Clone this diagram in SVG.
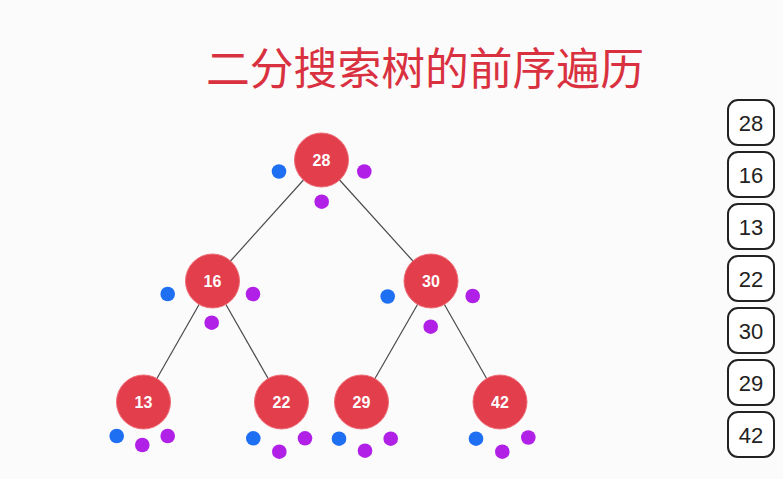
<svg xmlns="http://www.w3.org/2000/svg" width="783" height="479" viewBox="0 0 783 479">
<style>
.bg{fill:#fbfbfb}
.title{font-family:"Noto Sans CJK SC","Noto Sans",sans-serif;font-size:43.8px;fill:#d9313f}
.node circle{fill:#e23e4c;stroke:#ef6e78;stroke-width:1}
.node text{font-family:"Liberation Sans",Arial,sans-serif;font-size:16px;font-weight:bold;fill:#ffffff;text-anchor:middle}
.edge{stroke:#4a4a4a;stroke-width:1.2;fill:none}
.b{fill:#1f6ff2}
.p{fill:#b020e6}
.box rect{fill:#ffffff;stroke:#222222;stroke-width:2}
.box text{font-family:"Liberation Sans",Arial,sans-serif;font-size:22px;fill:#222222;text-anchor:middle}
</style>
<rect class="bg" x="0" y="0" width="783" height="479"/>
<text class="title" x="206" y="85">二分搜索树的前序遍历</text>
<g id="connectors">
<line class="edge" x1="321.5" y1="160" x2="212.5" y2="281"/>
<line class="edge" x1="321.5" y1="160" x2="431" y2="281"/>
<line class="edge" x1="212.5" y1="281" x2="143.5" y2="402"/>
<line class="edge" x1="212.5" y1="281" x2="281.5" y2="402"/>
<line class="edge" x1="431" y1="281" x2="361.5" y2="402"/>
<line class="edge" x1="431" y1="281" x2="500" y2="402"/>
</g>
<g id="node-28" class="node"><circle cx="321.5" cy="160" r="27"/><text x="321.5" y="166">28</text></g>
<g id="node-16" class="node"><circle cx="212.5" cy="281" r="27"/><text x="212.5" y="287">16</text></g>
<g id="node-30" class="node"><circle cx="431" cy="281" r="27"/><text x="431" y="287">30</text></g>
<g id="node-13" class="node"><circle cx="143.5" cy="402" r="27"/><text x="143.5" y="408">13</text></g>
<g id="node-22" class="node"><circle cx="281.5" cy="402" r="27"/><text x="281.5" y="408">22</text></g>
<g id="node-29" class="node"><circle cx="361.5" cy="402" r="27"/><text x="361.5" y="408">29</text></g>
<g id="node-42" class="node"><circle cx="500" cy="402" r="27"/><text x="500" y="408">42</text></g>
<g id="dots">
<circle class="b" cx="279" cy="171.5" r="7.3"/><circle class="p" cx="364.3" cy="171.5" r="7.3"/><circle class="p" cx="321.7" cy="201.7" r="7.3"/>
<circle class="b" cx="167.7" cy="294" r="7.3"/><circle class="p" cx="253" cy="294" r="7.3"/><circle class="p" cx="211.7" cy="322.7" r="7.3"/>
<circle class="b" cx="387.7" cy="296.5" r="7.3"/><circle class="p" cx="472.7" cy="296" r="7.3"/><circle class="p" cx="430.7" cy="326.7" r="7.3"/>
<circle class="b" cx="116.7" cy="436" r="7.3"/><circle class="p" cx="142.3" cy="445" r="7.3"/><circle class="p" cx="167.7" cy="436" r="7.3"/>
<circle class="b" cx="253.3" cy="438.3" r="7.3"/><circle class="p" cx="279.3" cy="451.7" r="7.3"/><circle class="p" cx="305" cy="438.3" r="7.3"/>
<circle class="b" cx="339" cy="438.7" r="7.3"/><circle class="p" cx="365" cy="450.7" r="7.3"/><circle class="p" cx="390.7" cy="438.7" r="7.3"/>
<circle class="b" cx="476" cy="438.7" r="7.3"/><circle class="p" cx="502.3" cy="451.7" r="7.3"/><circle class="p" cx="528.3" cy="437.5" r="7.3"/>
</g>
<g id="sequence">
<g id="box-28" class="box"><rect x="728" y="100" width="46" height="45" rx="10"/><text x="751" y="131">28</text></g>
<g id="box-16" class="box"><rect x="728" y="152" width="46" height="45" rx="10"/><text x="751" y="183">16</text></g>
<g id="box-13" class="box"><rect x="728" y="204" width="46" height="45" rx="10"/><text x="751" y="235">13</text></g>
<g id="box-22" class="box"><rect x="728" y="256" width="46" height="45" rx="10"/><text x="751" y="287">22</text></g>
<g id="box-30" class="box"><rect x="728" y="308" width="46" height="45" rx="10"/><text x="751" y="339">30</text></g>
<g id="box-29" class="box"><rect x="728" y="360" width="46" height="45" rx="10"/><text x="751" y="391">29</text></g>
<g id="box-42" class="box"><rect x="728" y="412" width="46" height="45" rx="10"/><text x="751" y="443">42</text></g>
</g>
</svg>
